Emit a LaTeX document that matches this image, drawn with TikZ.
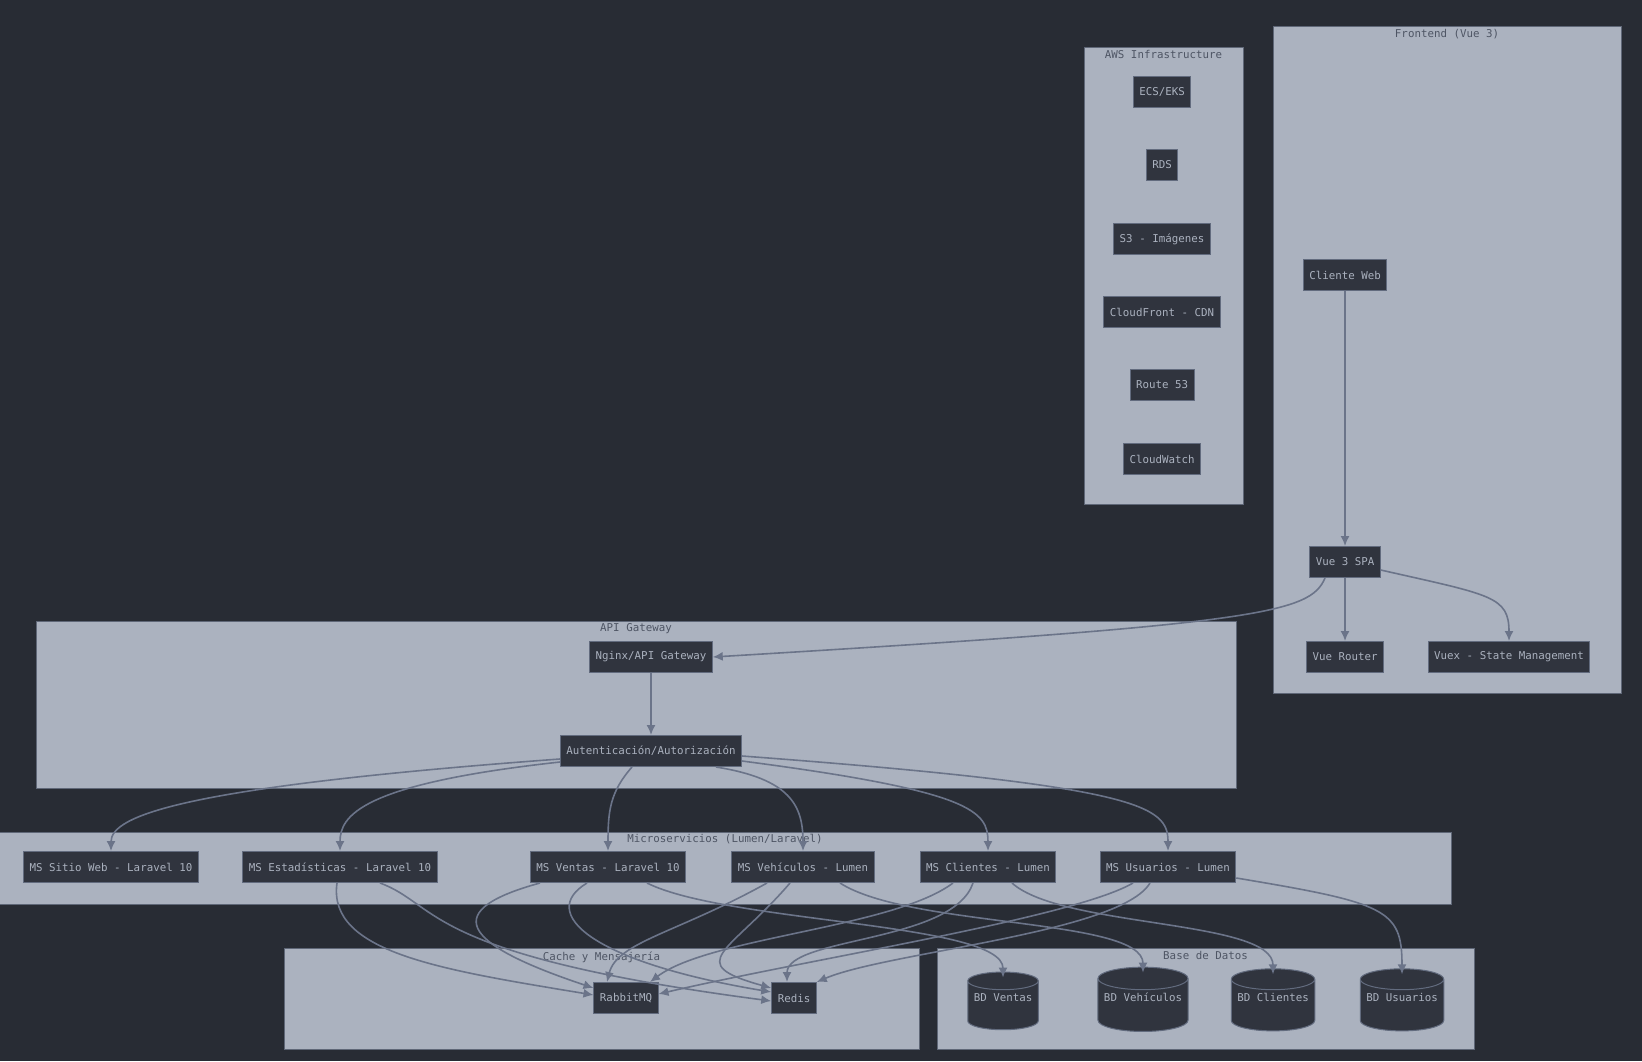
\documentclass[tikz,border=0pt]{standalone}
\usepackage{fontspec}
\setmonofont{DejaVu Sans Mono}
\usetikzlibrary{arrows.meta,shapes.geometric}

\definecolor{bgc}{HTML}{282C34}
\definecolor{grpfill}{HTML}{ABB2BF}
\definecolor{grpline}{HTML}{5F6777}
\definecolor{grptext}{HTML}{4E5564}
\definecolor{nodefill}{HTML}{30343E}
\definecolor{nodeline}{HTML}{626B7E}
\definecolor{nodetext}{HTML}{ABB2BF}
\definecolor{edgec}{HTML}{6B7489}

\tikzset{
  box/.style={draw=nodeline, fill=nodefill, text=nodetext, line width=1pt,
    inner xsep=6pt, minimum height=31pt, font=\ttfamily\fontsize{10.8}{13}\selectfont},
  db/.style={box, cylinder, shape border rotate=90, aspect=0.25, minimum height=57pt,
    text height=8pt, text depth=21pt},
  grp/.style={draw=grpline, fill=grpfill, line width=1pt, inner sep=0pt},
  grplabel/.style={text=grptext, anchor=north, inner sep=2pt,
    font=\ttfamily\fontsize{10.8}{13}\selectfont},
  edge/.style={draw=edgec, line width=1.6pt, -{Latex[length=10pt,width=9pt]}}
}

\begin{document}
\begin{tikzpicture}[x=1pt,y=-1pt]
\useasboundingbox (0,0) rectangle (1642,1061);
\fill[bgc] (0,0) rectangle (1642,1061);

% groups
\node[grp, minimum width=159, minimum height=457] (aws) at (1163.5,275.5) {};
\node[grp, minimum width=348, minimum height=667] (front) at (1447,359.5) {};
\node[grp, minimum width=1200, minimum height=167] (api) at (636,704.5) {};
\node[grp, minimum width=1452, minimum height=72] (micro) at (725,868) {};
\node[grp, minimum width=635, minimum height=101] (cache) at (601.5,998.5) {};
\node[grp, minimum width=537, minimum height=101] (datos) at (1205.5,998.5) {};

\node[grplabel] (awst) at ([yshift=-2pt]aws.north) {AWS Infrastructure};
\node[grplabel] (frontt) at ([yshift=-2pt]front.north) {Frontend (Vue 3)};
\node[grplabel] (apit) at ([yshift=-1pt]api.north) {API Gateway};
\node[grplabel] (microt) at ([yshift=-1pt]micro.north) {Microservicios (Lumen/Laravel)};
\node[grplabel] (cachet) at ([yshift=-2pt]cache.north) {Cache y Mensajería};
\node[grplabel] (datost) at ([yshift=-2pt]datos.north) {Base de Datos};

% aws
\node[box] (ecs) at (1162,92) {ECS/EKS};
\node[box] (rds) at (1162,165) {RDS};
\node[box] (s3) at (1162,239) {S3 - Imágenes};
\node[box] (cdn) at (1162,312) {CloudFront - CDN};
\node[box] (r53) at (1162,385) {Route 53};
\node[box] (cwatch) at (1162,459) {CloudWatch};

% frontend
\node[box] (web) at (1345,275) {Cliente Web};
\node[box] (spa) at (1345,562) {Vue 3 SPA};
\node[box] (router) at (1345,657) {Vue Router};
\node[box] (vuex) at (1509,657) {Vuex - State Management};

% gateway
\node[box] (ngx) at (651,657) {Nginx/API Gateway};
\node[box] (auth) at (651,751) {Autenticación/Autorización};

% microservicios
\node[box] (mssitio) at (111,867) {MS Sitio Web - Laravel 10};
\node[box] (msest) at (340,867) {MS Estadísticas - Laravel 10};
\node[box] (msvta) at (608,867) {MS Ventas - Laravel 10};
\node[box] (msveh) at (803,867) {MS Vehículos - Lumen};
\node[box] (mscli) at (988,867) {MS Clientes - Lumen};
\node[box] (msusr) at (1168,867) {MS Usuarios - Lumen};

% cache y datos
\node[box] (rabbit) at (626,998) {RabbitMQ};
\node[box] (redis) at (794,998) {Redis};
\node[db] (bdvta) at (1003,1008) {BD Ventas};
\node[db] (bdveh) at (1143,1008) {BD Vehículos};
\node[db] (bdcli) at (1273,1008) {BD Clientes};
\node[db] (bdusr) at (1402,1008) {BD Usuarios};

% frontend edges
\draw[edge] (web) -- (spa);
\draw[edge] (spa) -- (router);
\draw[edge] ([yshift=-8pt]spa.east) .. controls +(110,25) and +(0,-45) .. (vuex.north);
\draw[edge] ([xshift=-20pt]spa.south) .. controls +(-15,35) and +(550,-33) .. (ngx.east);
\draw[edge] (ngx) -- (auth);

% auth -> microservicios
\draw[edge] ([yshift=-8pt]auth.west) .. controls +(-380,28) and +(0,-35) .. (mssitio.north);
\draw[edge] ([yshift=-11pt]auth.west) .. controls +(-200,22) and +(0,-35) .. (msest.north);
\draw[edge] ([xshift=-19pt]auth.south) .. controls +(-22,25) and +(0,-40) .. (msvta.north);
\draw[edge] ([xshift=65pt]auth.south) .. controls +(75,12) and +(0,-45) .. (msveh.north);
\draw[edge] ([yshift=-10pt]auth.east) .. controls +(230,30) and +(0,-40) .. (mscli.north);
\draw[edge] ([yshift=-5pt]auth.east) .. controls +(400,30) and +(0,-45) .. (msusr.north);

% microservicios -> cache / bd
\draw[edge] ([xshift=-3pt]msest.south) .. controls +(-10,70) and +(-150,-25) .. ([yshift=3pt]rabbit.west);
\draw[edge] ([xshift=40pt]msest.south) .. controls +(60,22) and +(-350,-46) .. ([yshift=-3pt]redis.west);
\draw[edge] ([xshift=-68pt]msvta.south) .. controls +(-110,30) and +(-120,-40) .. ([yshift=10pt]rabbit.west);
\draw[edge] ([xshift=-21pt]msvta.south) .. controls +(-50,30) and +(-180,-30) .. ([yshift=6pt]redis.west);
\draw[edge] ([xshift=39pt]msvta.south) .. controls +(80,40) and +(0,-55) .. ([yshift=-6pt]bdvta.north);
\draw[edge] ([xshift=-36pt]msveh.south) .. controls +(-90,50) and +(10,-40) .. ([xshift=-19pt]rabbit.north);
\draw[edge] ([xshift=-13pt]msveh.south) .. controls +(-60,70) and +(-90,-25) .. ([yshift=10pt]redis.west);
\draw[edge] ([xshift=37pt]msveh.south) .. controls +(70,45) and +(0,-55) .. ([yshift=-6pt]bdveh.north);
\draw[edge] ([xshift=-35pt]mscli.south) .. controls +(-60,45) and +(60,-45) .. ([xshift=24pt]rabbit.north);
\draw[edge] ([xshift=-15pt]mscli.south) .. controls +(-20,60) and +(0,-45) .. ([xshift=-7pt]redis.north);
\draw[edge] ([xshift=24pt]mscli.south) .. controls +(50,45) and +(0,-55) .. ([yshift=-6pt]bdcli.north);
\draw[edge] ([xshift=-35pt]msusr.south) .. controls +(-60,35) and +(150,-35) .. ([yshift=4pt]rabbit.east);
\draw[edge] ([xshift=-18pt]msusr.south) .. controls +(-30,50) and +(70,-30) .. (redis.north east);
\draw[edge] ([yshift=-11pt]msusr.east) .. controls +(150,25) and +(0,-65) .. ([yshift=-6pt]bdusr.north);
\end{tikzpicture}
\end{document}
